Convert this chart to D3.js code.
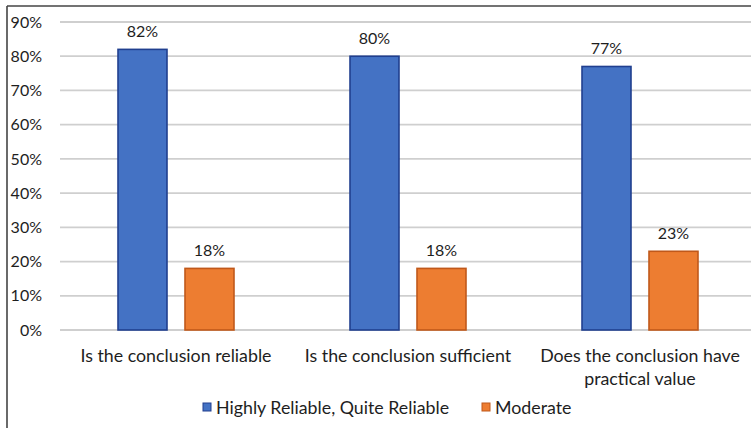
<!DOCTYPE html>
<html>
<head>
<meta charset="utf-8">
<script src="https://cdn.jsdelivr.net/npm/d3@7/dist/d3.min.js"></script>
<style>
  html, body { margin: 0; padding: 0; background: #fff; }
  svg { display: block; }
  text { font-family: Lato, "Open Sans", sans-serif; fill: #1e1e1e; }
</style>
</head>
<body>
<svg id="chart" width="751" height="428"></svg>
<script>
// Survey responses per question (percent)
const categories = [
  ["Is the conclusion reliable"],
  ["Is the conclusion sufficient"],
  ["Does the conclusion have", "practical value"]
];
const seriesNames = ["Highly Reliable, Quite Reliable", "Moderate"];
const highlyReliable = [82, 80, 77];
const moderate = [18, 18, 23];
const yTicks = [0, 10, 20, 30, 40, 50, 60, 70, 80, 90];

const colors = ["#4472C4", "#ED7D31"];
const strokes = ["#203F8F", "#C0581A"];

const svg = d3.select("#chart");
const W = 751, H = 428;

// outer frame (left and top edges visible)
svg.append("line").attr("x1", 7).attr("x2", W).attr("y1", 6).attr("y2", 6)
  .attr("stroke", "#444").attr("stroke-width", 1.6);
svg.append("line").attr("x1", 7).attr("x2", 7).attr("y1", 6).attr("y2", H)
  .attr("stroke", "#444").attr("stroke-width", 1.6);

const plot = { left: 60, right: 756, top: 22, bottom: 330 };
const keys = categories.map(c => c.join(" "));

const x0 = d3.scaleBand().domain(keys).range([plot.left, plot.right]).padding(0);
const x1 = d3.scaleBand().domain(seriesNames).range([0, x0.bandwidth()])
  .paddingInner(0.239).paddingOuter(0.851);
const y = d3.scaleLinear().domain([0, 90]).range([plot.bottom, plot.top]);

// gridlines
svg.append("g").selectAll("line").data(yTicks).join("line")
  .attr("x1", plot.left).attr("x2", plot.right)
  .attr("y1", d => y(d)).attr("y2", d => y(d))
  .attr("stroke", "#cfcfcf").attr("stroke-width", 1.8);

// y axis labels
const yAxis = d3.axisLeft(y).tickValues(yTicks).tickFormat(d => d + "%").tickSize(0).tickPadding(0);
const yg = svg.append("g").attr("transform", "translate(42,0)").call(yAxis);
yg.select(".domain").remove();
yg.selectAll("text").attr("font-size", 16).attr("fill", "#1e1e1e")
  .style("font-family", "Lato, sans-serif");

const rows = keys.map((k, i) => ({ key: k, values: [highlyReliable[i], moderate[i]] }));

const groups = svg.append("g").selectAll("g").data(rows).join("g")
  .attr("transform", d => `translate(${x0(d.key)},0)`);

groups.selectAll("rect").data(d => d.values.map((v, j) => ({ s: seriesNames[j], v, j })))
  .join("rect")
  .attr("x", d => x1(d.s) + 1)
  .attr("width", x1.bandwidth() - 2)
  .attr("y", d => y(d.v))
  .attr("height", d => y(0) - y(d.v))
  .attr("fill", d => colors[d.j])
  .attr("stroke", d => strokes[d.j])
  .attr("stroke-width", 1.6);

groups.selectAll("text.val").data(d => d.values.map((v, j) => ({ s: seriesNames[j], v })))
  .join("text").attr("class", "val")
  .attr("x", d => x1(d.s) + x1.bandwidth() / 2)
  .attr("y", d => y(d.v) - 12)
  .attr("text-anchor", "middle")
  .attr("font-size", 16)
  .text(d => d.v + "%");

// category labels
const xg = svg.append("g");
categories.forEach((lines, i) => {
  const cx = x0(keys[i]) + x0.bandwidth() / 2;
  const t = xg.append("text")
    .attr("x", cx)
    .attr("y", 362)
    .attr("text-anchor", "middle")
    .attr("font-size", 17.8);
  lines.forEach((ln, k) => {
    t.append("tspan").attr("x", cx)
      .attr("dy", k === 0 ? 0 : 23).text(ln);
  });
});

// legend
const legendX = [203, 482];
const lg = svg.append("g");
seriesNames.forEach((name, j) => {
  lg.append("rect").attr("x", legendX[j]).attr("y", 403).attr("width", 8).attr("height", 8)
    .attr("fill", colors[j]).attr("stroke", strokes[j]).attr("stroke-width", 1);
  lg.append("text").attr("x", legendX[j] + 13).attr("y", 414)
    .attr("font-size", 17.8).text(name);
});
</script>
</body>
</html>
